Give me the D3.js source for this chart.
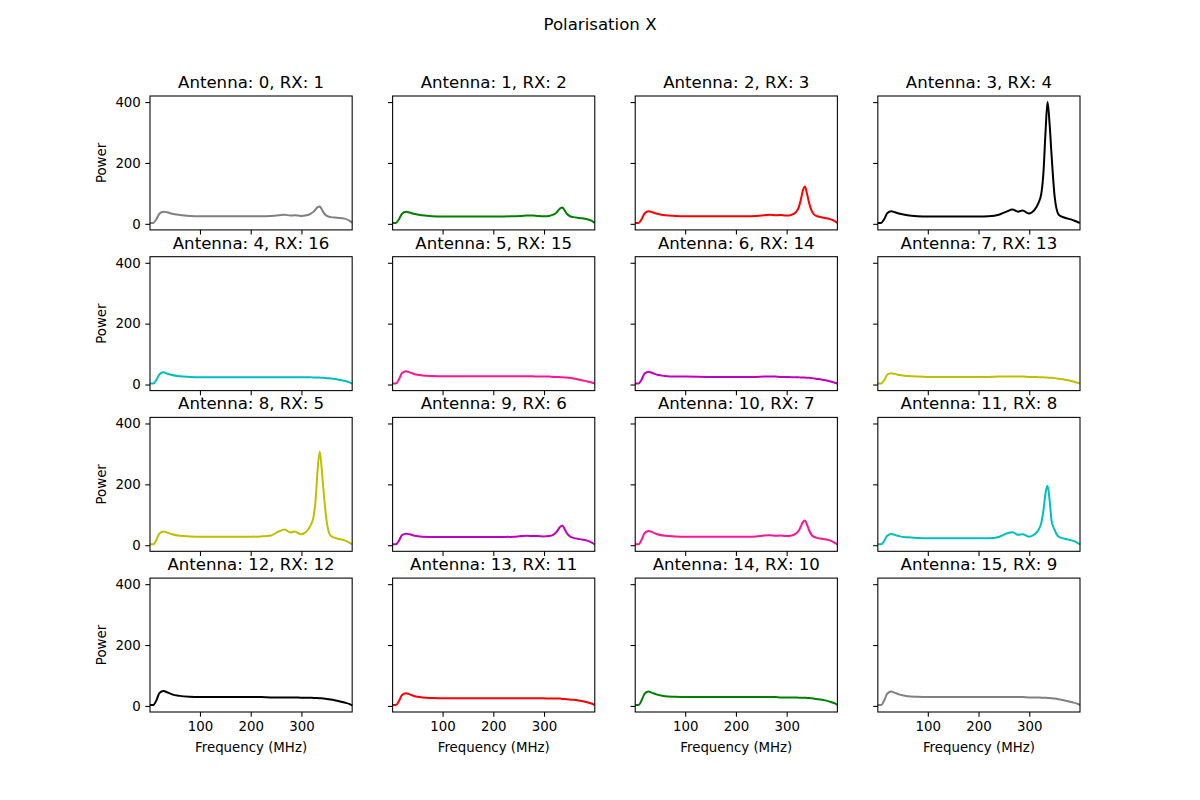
<!DOCTYPE html>
<html>
<head>
<meta charset="utf-8">
<script src="https://cdn.jsdelivr.net/npm/d3@7"></script>
<style>
  body { margin: 0; background: #fff; }
  text { font-family: "DejaVu Sans", sans-serif; fill: #000; }
</style>
</head>
<body>
<div id="chart"></div>
<script>
// frequency grid (MHz) shared by all traces
const freq = [1.5, 8, 14, 20, 28, 35, 45, 60, 80, 100, 150, 200, 220, 240, 255, 267, 278, 287, 299, 310, 318, 324, 328, 332, 336, 340, 344, 350, 358, 370, 385, 395, 400];

const antennas = [0, 1, 2, 3, 4, 5, 6, 7, 8, 9, 10, 11, 12, 13, 14, 15];
const rxs = [1, 2, 3, 4, 16, 15, 14, 13, 5, 6, 7, 8, 12, 11, 10, 9];
const colours = ["grey", "green", "red", "black", "#00bfbf", "deeppink", "#bf00bf", "#bfbf00",
                 "#bfbf00", "#bf00bf", "deeppink", "#00bfbf", "black", "red", "green", "grey"];

const power0 = [3, 3, 15, 33, 40, 38, 33, 29, 26, 25, 25, 25, 25, 26, 28, 30, 27, 28, 26, 28, 33, 40, 48, 55, 57, 48, 36, 26, 22, 20, 17, 10, 4];
const power1 = [3, 3, 15, 33, 40, 37, 32, 28, 25, 24, 24, 24, 24, 25, 26, 27, 27, 26, 25, 26, 30, 36, 44, 51, 54, 46, 35, 26, 22, 19, 15, 9, 3];
const power2 = [3, 3, 15, 34, 41, 38, 33, 28, 26, 25, 25, 25, 25, 26, 28, 30, 28, 29, 27, 30, 38, 55, 80, 110, 123, 100, 70, 40, 26, 21, 16, 9, 3];
const power3 = [3, 3, 15, 35, 41, 38, 33, 28, 25, 24, 24, 24, 25, 30, 40, 47, 40, 44, 34, 45, 68, 102, 170, 300, 400, 330, 225, 90, 30, 20, 13, 6, 3];
const power4 = [3, 3, 15, 33, 40, 36, 31, 27, 25, 24, 24, 24, 24, 24, 24, 24, 24, 24, 24, 24, 24, 23, 23, 23, 23, 22, 22, 21, 20, 17, 12, 7, 3];
const power5 = [3, 3, 17, 38, 44, 40, 34, 30, 28, 27, 27, 27, 27, 27, 27, 27, 27, 26, 26, 26, 25, 25, 25, 24, 24, 23, 23, 22, 20, 16, 10, 6, 3];
const power6 = [3, 3, 16, 36, 42, 38, 32, 28, 26, 26, 25, 25, 25, 25, 26, 26, 26, 25, 25, 24, 24, 24, 23, 23, 23, 22, 22, 21, 19, 16, 11, 6, 3];
const power7 = [3, 3, 14, 32, 37, 35, 31, 28, 26, 25, 25, 25, 25, 26, 26, 26, 26, 26, 25, 25, 24, 24, 24, 23, 23, 22, 22, 21, 19, 16, 11, 6, 3];
const power8 = [3, 3, 17, 38, 45, 42, 36, 31, 29, 28, 28, 28, 29, 32, 45, 52, 42, 45, 36, 45, 65, 95, 150, 250, 308, 250, 170, 75, 30, 22, 16, 8, 3];
const power9 = [3, 3, 15, 33, 38, 36, 31, 28, 27, 27, 27, 27, 27, 28, 30, 31, 30, 30, 29, 30, 34, 42, 52, 61, 65, 55, 42, 30, 24, 20, 15, 8, 3];
const power10 = [3, 3, 18, 40, 47, 43, 36, 31, 29, 28, 28, 28, 28, 29, 32, 33, 31, 32, 30, 32, 38, 48, 62, 76, 81, 68, 50, 32, 25, 21, 16, 8, 3];
const power11 = [3, 3, 14, 31, 37, 34, 29, 26, 24, 23, 23, 23, 23, 27, 38, 43, 34, 36, 28, 35, 50, 75, 115, 170, 195, 150, 80, 50, 28, 21, 15, 8, 3];
const power12 = [3, 3, 18, 42, 49, 45, 38, 33, 30, 29, 29, 29, 29, 28, 28, 28, 28, 28, 27, 27, 27, 26, 26, 26, 25, 25, 24, 23, 21, 17, 11, 6, 2];
const power13 = [3, 3, 16, 36, 42, 38, 32, 28, 26, 25, 25, 25, 25, 25, 25, 25, 25, 25, 25, 24, 24, 24, 24, 24, 23, 23, 22, 21, 20, 17, 12, 7, 3];
const power14 = [3, 3, 18, 40, 47, 43, 37, 32, 30, 29, 29, 29, 29, 29, 29, 29, 29, 28, 28, 28, 28, 27, 27, 27, 27, 26, 26, 25, 23, 20, 14, 8, 3];
const power15 = [3, 3, 18, 40, 47, 43, 37, 32, 30, 29, 29, 29, 29, 29, 29, 29, 29, 29, 28, 28, 28, 27, 27, 27, 26, 26, 25, 24, 22, 18, 12, 7, 3];

const powers = [power0, power1, power2, power3, power4, power5, power6, power7,
                power8, power9, power10, power11, power12, power13, power14, power15];

const xTicks = [100, 200, 300];
const yTicks = [0, 200, 400];

// figure layout, same proportions as the matplotlib defaults
const W = 1200, H = 800;
const margin = {left: 150, right: 1080, top: 96, bottom: 712};
const cols = 4, rows = 4;
const cellW = (margin.right - margin.left) / (cols + 0.2 * (cols - 1));
const cellH = (margin.bottom - margin.top) / (rows + 0.2 * (rows - 1));
const gapW = cellW * 0.2, gapH = cellH * 0.2;

const svg = d3.select("#chart")
  .append("svg")
    .attr("width", W)
    .attr("height", H);

svg.append("text")
  .attr("x", W / 2)
  .attr("y", 30)
  .attr("text-anchor", "middle")
  .style("font-size", "16.6px")
  .text("Polarisation X");

const x = d3.scaleLinear().domain([1.5, 400]).range([0, cellW]);
const y = d3.scaleLinear().domain([-20, 420]).range([cellH, 0]);

const line = d3.line()
  .x((d, i) => x(freq[i]))
  .y(d => y(d))
  .curve(d3.curveMonotoneX);

antennas.forEach(function(ant, k) {
  const r = Math.floor(k / cols), c = k % cols;
  const g = svg.append("g")
    .attr("transform", `translate(${margin.left + c * (cellW + gapW)}, ${margin.top + r * (cellH + gapH)})`);

  // x axis, labels only on the bottom row
  const xa = g.append("g")
    .attr("transform", `translate(0, ${cellH})`)
    .call(d3.axisBottom(x).tickValues(xTicks).tickSize(4.67).tickPadding(4.5)
      .tickFormat(r === rows - 1 ? d3.format("d") : ""));
  xa.select(".domain").remove();

  // y axis, labels only on the first column
  const ya = g.append("g")
    .call(d3.axisLeft(y).tickValues(yTicks).tickSize(4.67).tickPadding(4.5)
      .tickFormat(c === 0 ? d3.format("d") : ""));
  ya.select(".domain").remove();

  g.selectAll(".tick line").attr("stroke", "#000").attr("stroke-width", 1.07);
  g.selectAll(".tick text")
    .style("font-size", "13.33px")
    .style("font-family", "DejaVu Sans, sans-serif");

  g.append("path")
    .datum(powers[k])
    .attr("fill", "none")
    .attr("stroke", colours[k])
    .attr("stroke-width", 2)
    .attr("stroke-linejoin", "round")
    .attr("d", line);

  // frame
  g.append("rect")
    .attr("width", cellW)
    .attr("height", cellH)
    .attr("fill", "none")
    .attr("stroke", "#000")
    .attr("stroke-width", 1.07);

  g.append("text")
    .attr("x", cellW / 2)
    .attr("y", -8)
    .attr("text-anchor", "middle")
    .style("font-size", "16.6px")
    .text(`Antenna: ${ant}, RX: ${rxs[k]}`);

  if (c === 0) {
    g.append("text")
      .attr("transform", `translate(-44, ${cellH / 2}) rotate(-90)`)
      .attr("text-anchor", "middle")
      .style("font-size", "13.33px")
      .text("Power");
  }
  if (r === rows - 1) {
    g.append("text")
      .attr("x", cellW / 2)
      .attr("y", cellH + 40)
      .attr("text-anchor", "middle")
      .style("font-size", "13.33px")
      .text("Frequency (MHz)");
  }
});
</script>
</body>
</html>
